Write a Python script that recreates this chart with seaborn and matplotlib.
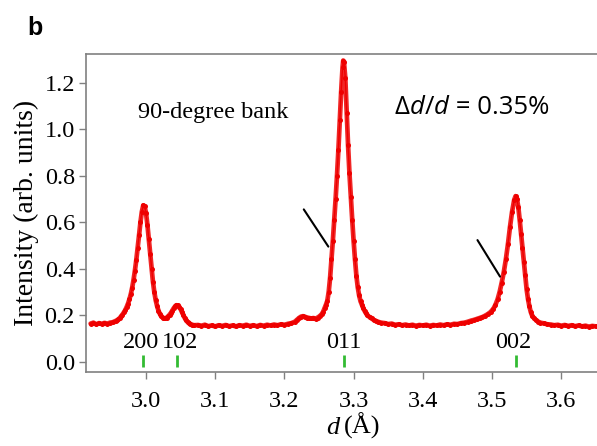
import numpy as np
import pandas as pd
import matplotlib
matplotlib.use("Agg")
import matplotlib.pyplot as plt
import seaborn as sns

# ---- data ----
d_left = [2.920, 2.924, 2.928, 2.932, 2.936, 2.940, 2.944, 2.948, 2.952, 2.956]
i_left = [0.164, 0.168, 0.161, 0.166, 0.163, 0.167, 0.164, 0.168, 0.170, 0.175]

d_200 = [2.958, 2.960, 2.962, 2.964, 2.966, 2.968, 2.970, 2.972, 2.974, 2.976,
         2.978, 2.980, 2.982, 2.984, 2.986, 2.988, 2.990, 2.992, 2.994, 2.996,
         2.998, 3.000, 3.002, 3.004, 3.006, 3.008, 3.010, 3.012, 3.014, 3.016,
         3.018, 3.020, 3.022, 3.024, 3.026, 3.028, 3.030]
i_200 = [0.178, 0.182, 0.188, 0.195, 0.203, 0.212, 0.222, 0.235, 0.250, 0.268,
         0.290, 0.318, 0.352, 0.392, 0.438, 0.490, 0.545, 0.600, 0.645, 0.672,
         0.668, 0.640, 0.590, 0.528, 0.462, 0.400, 0.345, 0.300, 0.265, 0.240,
         0.220, 0.206, 0.196, 0.190, 0.187, 0.187, 0.190]

d_102 = [3.032, 3.034, 3.036, 3.038, 3.040, 3.042, 3.044, 3.046, 3.048, 3.050,
         3.052, 3.054, 3.056, 3.058, 3.060, 3.062, 3.064, 3.066, 3.068, 3.070]
i_102 = [0.195, 0.202, 0.210, 0.220, 0.230, 0.238, 0.243, 0.242, 0.236, 0.226,
         0.213, 0.200, 0.188, 0.178, 0.171, 0.166, 0.162, 0.160, 0.158, 0.157]

d_mid1 = [3.075, 3.080, 3.085, 3.090, 3.095, 3.100, 3.105, 3.110, 3.115, 3.120,
          3.125, 3.130, 3.135, 3.140, 3.145, 3.150, 3.155, 3.160, 3.165, 3.170,
          3.175, 3.180, 3.185, 3.190, 3.195, 3.200, 3.205, 3.210, 3.215]
i_mid1 = [0.158, 0.155, 0.159, 0.153, 0.156, 0.152, 0.157, 0.154, 0.158, 0.153,
          0.156, 0.152, 0.157, 0.155, 0.159, 0.154, 0.157, 0.153, 0.158, 0.155,
          0.159, 0.156, 0.160, 0.157, 0.161, 0.159, 0.163, 0.166, 0.172]

d_bump = [3.218, 3.221, 3.224, 3.227, 3.230, 3.233, 3.236, 3.239, 3.242, 3.245,
          3.248, 3.251, 3.254, 3.256]
i_bump = [0.180, 0.188, 0.194, 0.196, 0.193, 0.190, 0.188, 0.186, 0.188, 0.185,
          0.190, 0.196, 0.205, 0.215]

d_011 = [3.258, 3.260, 3.262, 3.264, 3.266, 3.268, 3.270, 3.272, 3.274, 3.276,
         3.278, 3.280, 3.282, 3.284, 3.285, 3.286, 3.288, 3.290, 3.292, 3.294,
         3.296, 3.298, 3.300, 3.302, 3.304, 3.306, 3.308, 3.310, 3.312, 3.314,
         3.316, 3.318, 3.320, 3.323, 3.326, 3.329, 3.332, 3.335, 3.340]
i_011 = [0.230, 0.245, 0.262, 0.300, 0.360, 0.440, 0.520, 0.610, 0.700, 0.800,
         0.910, 1.040, 1.160, 1.265, 1.295, 1.290, 1.220, 1.070, 0.930, 0.810,
         0.710, 0.610, 0.520, 0.440, 0.370, 0.320, 0.285, 0.260, 0.245, 0.230,
         0.218, 0.208, 0.200, 0.192, 0.186, 0.180, 0.176, 0.172, 0.168]

d_mid2 = [3.345, 3.350, 3.355, 3.360, 3.365, 3.370, 3.375, 3.380, 3.385, 3.390,
          3.395, 3.400, 3.405, 3.410, 3.415, 3.420, 3.425, 3.430, 3.435, 3.440,
          3.445, 3.450, 3.455, 3.460, 3.465, 3.470]
i_mid2 = [0.166, 0.162, 0.164, 0.159, 0.161, 0.157, 0.160, 0.156, 0.159, 0.155,
          0.158, 0.156, 0.159, 0.155, 0.158, 0.156, 0.160, 0.157, 0.161, 0.159,
          0.163, 0.162, 0.166, 0.168, 0.172, 0.177]

d_002 = [3.474, 3.478, 3.482, 3.486, 3.490, 3.494, 3.498, 3.502, 3.505, 3.508,
         3.511, 3.514, 3.517, 3.520, 3.523, 3.526, 3.529, 3.532, 3.534, 3.536,
         3.538, 3.540, 3.542, 3.544, 3.546, 3.548, 3.550, 3.552, 3.554, 3.556,
         3.558, 3.561, 3.564, 3.567, 3.570]
i_002 = [0.180, 0.184, 0.188, 0.192, 0.198, 0.205, 0.214, 0.228, 0.245, 0.268,
         0.300, 0.340, 0.385, 0.440, 0.505, 0.580, 0.645, 0.695, 0.712, 0.700,
         0.665, 0.610, 0.550, 0.490, 0.430, 0.372, 0.312, 0.270, 0.238, 0.214,
         0.198, 0.186, 0.178, 0.172, 0.168]

d_right = [3.575, 3.580, 3.585, 3.590, 3.595, 3.600, 3.605, 3.610, 3.615, 3.620,
           3.625, 3.630, 3.635, 3.640, 3.645, 3.650, 3.655]
i_right = [0.165, 0.161, 0.160, 0.157, 0.159, 0.155, 0.158, 0.154, 0.157, 0.153,
           0.156, 0.152, 0.155, 0.151, 0.154, 0.152, 0.153]

peak_labels = ["200", "102", "011", "002"]
peak_positions = [2.996, 3.045, 3.286, 3.534]
label_x = [2.9925, 3.0485, 3.286, 3.531]

d_all = d_left + d_200 + d_102 + d_mid1 + d_bump + d_011 + d_mid2 + d_002 + d_right
i_all = i_left + i_200 + i_102 + i_mid1 + i_bump + i_011 + i_mid2 + i_002 + i_right
df = pd.DataFrame({"d": d_all, "I": i_all})

# ---- style ----
sns.set_theme(style="ticks")
serif = ["Liberation Serif", "DejaVu Serif"]
plt.rcParams["font.family"] = serif
plt.rcParams["text.color"] = "black"
plt.rcParams["axes.labelcolor"] = "black"
red = "#ee0000"
gray = "#808080"

fig = plt.figure(figsize=(5.97, 4.46), dpi=100)
ax = fig.add_axes([86 / 597, 1 - 372 / 446, 1 - 86 / 597, (372 - 54) / 446])

sns.lineplot(data=df, x="d", y="I", ax=ax, color=red, lw=3.4, sort=True,
             estimator=None, alpha=0.85)
sns.lineplot(data=df, x="d", y="I", ax=ax, color=red, lw=1.0, marker="o",
             markersize=3.6, markeredgewidth=0, sort=True, estimator=None)

ax.set_xlim(2.9133, 3.6517)
ax.set_ylim(-0.044, 1.323)
ax.set_xticks([3.0, 3.1, 3.2, 3.3, 3.4, 3.5, 3.6])
ax.set_yticks([0.0, 0.2, 0.4, 0.6, 0.8, 1.0, 1.2])
ax.xaxis.set_major_formatter(matplotlib.ticker.FormatStrFormatter("%.1f"))
ax.yaxis.set_major_formatter(matplotlib.ticker.FormatStrFormatter("%.1f"))
ax.tick_params(axis="both", direction="out", length=5, width=1, color=gray,
               labelsize=17.5, labelcolor="black")
ax.tick_params(axis="x", pad=9)
ax.tick_params(axis="y", pad=3)
for s in ["left", "bottom", "top"]:
    ax.spines[s].set_color(gray)
    ax.spines[s].set_linewidth(1.2)
ax.spines["right"].set_visible(False)

ax.set_xlabel("")
ax.set_ylabel("Intensity (arb. units)", fontsize=20, labelpad=4, color="black")

# green reflection ticks
ax.vlines(peak_positions, -0.021, 0.029, color="#33bb33", lw=2)
for lab, x in zip(peak_labels, label_x):
    ax.text(x, 0.058, lab, ha="center", va="baseline", fontsize=17.5, color="black")

# annotations
ax.text(3.097, 1.048, "90-degree bank", ha="center", va="baseline", fontsize=17.5,
        color="black")
sans = ["Open Sans", "DejaVu Sans"]
fs = 18.5
t1 = ax.text(3.359, 1.065, "Δ", ha="left", va="baseline", fontsize=fs, family=sans,
             color="black")
t2 = ax.annotate("d", xy=(1, 0), xycoords=t1, ha="left", va="bottom", fontsize=fs,
                 family=sans, style="italic", color="black")
t3 = ax.annotate("/", xy=(1, 0), xycoords=t2, ha="left", va="bottom", fontsize=fs,
                 family=sans, color="black")
t4 = ax.annotate("d", xy=(1, 0), xycoords=t3, ha="left", va="bottom", fontsize=fs,
                 family=sans, style="italic", color="black")
ax.annotate(" = 0.35%", xy=(1, 0), xycoords=t4, ha="left", va="bottom", fontsize=fs,
            family=sans, color="black")

ax.plot([3.228, 3.2635], [0.655, 0.495], color="black", lw=1.5)
ax.plot([3.479, 3.5116], [0.523, 0.366], color="black", lw=1.5)

# x label: italic d + (Å)
fig.text(326 / 597, 1 - 434 / 446, "d", ha="left", va="baseline", fontsize=19,
         style="italic", family=serif, color="black")
fig.text(344 / 597, 1 - 434 / 446, "(Å)", ha="left", va="baseline", fontsize=19,
         family=serif, color="black")

fig.text(27 / 597, 1 - 35 / 446, "b", ha="left", va="baseline", fontsize=18,
         fontweight="bold", family=["Liberation Sans", "DejaVu Sans"], color="black")

fig.savefig("out.png", dpi=100)
